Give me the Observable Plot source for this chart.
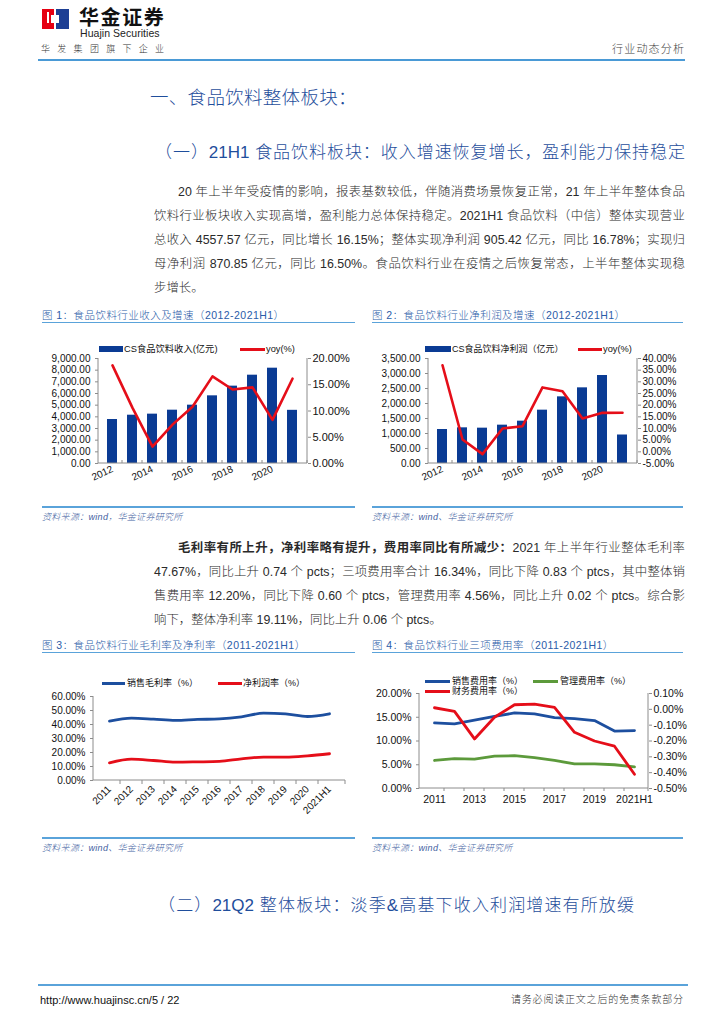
<!DOCTYPE html>
<html><head><meta charset="utf-8">
<script src="https://cdn.jsdelivr.net/npm/d3@7"></script>
<script src="https://cdn.jsdelivr.net/npm/@observablehq/plot@0.6"></script>
<style>
body{margin:0;background:#fff;}
#page{position:relative;width:724px;height:1024px;overflow:hidden;background:#fff;font-family:"Liberation Sans","Noto Sans CJK SC",sans-serif;color:#222;}
</style>
</head><body><div id="page">
<svg style="position:absolute;left:42px;top:9px" width="27" height="20" viewBox="0 0 27 20">
<path d="M0 0H12V6H9V14H12V20H0Z" fill="#e60012"/>
<path d="M14 0H27V20H14V14H17V6H14Z" fill="#1d3f94"/>
<rect x="5" y="3" width="2" height="11" fill="#fff"/>
</svg>
</div>
<script>
// ---------- data ----------
const years1 = ["2012","2013","2014","2015","2016","2017","2018","2019","2020","2021H1"];
const xLabels1 = ["2012","2014","2016","2018","2020"];
const revenue = [3770,4140,4230,4570,5000,5800,6630,7570,8170,4558];
const revenueYoy = [18.7,10.6,3.2,7.4,10.8,16.6,14.1,14.5,8.3,16.15];
const revTicks = [0,1000,2000,3000,4000,5000,6000,7000,8000,9000];
const revYoyTicks = [0,5,10,15,20];

const profit = [1133,1189,1178,1278,1411,1778,2222,2522,2933,950];
const profitYoy = [37.1,5.3,-1.0,10.0,11.0,27.6,26.0,14.3,16.7,16.78];
const profitTicks = [0,500,1000,1500,2000,2500,3000,3500];
const profitYoyTicks = [-5,0,5,10,15,20,25,30,35,40];

const years3 = ["2011","2012","2013","2014","2015","2016","2017","2018","2019","2020","2021H1"];
const grossMargin = [42.4,44.5,43.8,42.9,43.6,44.0,45.5,48.1,47.6,45.7,47.67];
const netMargin = [12.6,15.2,14.3,13.1,13.3,13.6,15.5,16.7,16.7,17.6,19.11];
const marginTicks = [0,10,20,30,40,50,60];

const xLabels4 = ["2011","2013","2015","2017","2019","2021H1"];
const salesExp = [13.8,13.6,14.4,15.2,15.9,15.7,14.9,14.7,14.3,12.1,12.2];
const adminExp = [5.9,6.3,6.2,6.8,6.9,6.5,5.9,5.2,5.2,5.0,4.56];
const finExp = [0.01,-0.013,-0.187,-0.05,0.029,0.033,0.012,-0.145,-0.20,-0.233,-0.41];
const expTicks = [0,5,10,15,20];
const finTicks = [-0.5,-0.4,-0.3,-0.2,-0.1,0,0.1];

// ---------- styles ----------
const C = {bar:"#0a3b94", red:"#e50e19", blue:"#1d4f9f", green:"#5c9a3b", axis:"#8c8c8c",
  title:"#2a5ca8", rule:"#5aa3da", head:"#1f4e9c", src:"#3f5f9f"};
const FONT = '"Liberation Sans","Noto Sans CJK SC",sans-serif';
const page = document.getElementById("page");

function el(css, html) {
  const e = document.createElement("div");
  e.style.cssText = "position:absolute;white-space:nowrap;" + css;
  if (html != null) e.innerHTML = html;
  page.appendChild(e); return e;
}
function txt(s, x, yc, fs, css="") {
  return el(`left:${x}px;top:${yc - fs}px;height:${fs*2}px;line-height:${fs*2}px;font-size:${fs}px;${css}`, s);
}
function jline(s, x, w, yc, fs, css="") {
  return el(`left:${x}px;width:${w}px;top:${yc - fs}px;height:${fs*2}px;line-height:${fs*2}px;font-size:${fs}px;text-align:justify;text-align-last:justify;${css}`, s);
}
function hr(x1, x2, y, color, w=1) {
  el(`left:${x1}px;top:${y - w/2}px;width:${x2-x1}px;height:${w}px;background:${color}`);
}
function swatchRect(x1, x2, yc, h, color) { el(`left:${x1}px;top:${yc-h/2}px;width:${x2-x1}px;height:${h}px;background:${color}`); }

// ---------- header ----------
txt("华金证券", 79, 18, 20, "font-weight:bold;letter-spacing:1.6px;color:#111;");
txt("Huajin Securities", 80, 33.5, 10.5, "color:#222;letter-spacing:0.05px;");
txt("华发集团旗下企业", 41, 49, 9, "letter-spacing:7.3px;color:#333;font-weight:300;");
txt("行业动态分析", 612, 49, 11, "letter-spacing:1.2px;color:#444;font-weight:300;");
hr(38, 685, 59.5, "#4a9ad6", 2);

// ---------- headings & text ----------
const HC = `color:${C.head};font-weight:300;`;
txt("一、食品饮料整体板块：", 150, 97, 18.5, HC + "letter-spacing:0.3px;");
jline("（一）21H1 食品饮料板块：收入增速恢复增长，盈利能力保持稳定", 155, 530, 153, 17, HC);

const P = 12.4, PC = "color:#2a2a2a;font-weight:300;";
jline("20 年上半年受疫情的影响，报表基数较低，伴随消费场景恢复正常，21 年上半年整体食品", 178, 507, 192, P, PC);
jline("饮料行业板块收入实现高增，盈利能力总体保持稳定。2021H1 食品饮料（中信）整体实现营业", 154, 531, 216, P, PC);
jline("总收入 4557.57 亿元，同比增长 16.15%；整体实现净利润 905.42 亿元，同比 16.78%；实现归", 154, 531, 240, P, PC);
jline("母净利润 870.85 亿元，同比 16.50%。食品饮料行业在疫情之后恢复常态，上半年整体实现稳", 154, 531, 264, P, PC);
txt("步增长。", 154, 288, P, PC);

jline("<b style='font-weight:700'>毛利率有所上升，净利率略有提升，费用率同比有所减少：</b>2021 年上半年行业整体毛利率", 178, 507, 548, P, PC);
jline("47.67%，同比上升 0.74 个 pcts；三项费用率合计 16.34%，同比下降 0.83 个 ptcs，其中整体销", 154, 531, 572, P, PC);
jline("售费用率 12.20%，同比下降 0.60 个 ptcs，管理费用率 4.56%，同比上升 0.02 个 ptcs。综合影", 154, 531, 596, P, PC);
txt("响下，整体净利率 19.11%，同比上升 0.06 个 ptcs。", 154, 620, P, PC);

jline("（二）21Q2 整体板块：淡季&amp;高基下收入利润增速有所放缓", 158, 476, 906, 17, HC);

// footer
hr(38, 688, 985, C.rule, 1.5);
txt("http://www.huajinsc.cn/5 / 22", 40, 1000, 11, "color:#111;");
txt("请务必阅读正文之后的免责条款部分", 511, 1000, 10, "letter-spacing:0.8px;color:#333;font-weight:300;");

// chart titles, rules and sources
function chartBox(title, src, x1, x2, yTitle, ySrc) {
  txt(title, x1, yTitle, 10.5, `color:${C.title};letter-spacing:0.45px;font-weight:300;`);
  hr(x1, x2, yTitle + 7.5, C.rule, 1.5);
  hr(x1, x2, ySrc - 10, C.rule, 1.2);
  txt(src, x1, ySrc, 9, `color:${C.src};font-style:italic;letter-spacing:0.3px;font-weight:300;`);
}
chartBox("图 1：食品饮料行业收入及增速（2012-2021H1）", "资料来源：wind，华金证券研究所", 42, 355, 315, 517);
chartBox("图 2：食品饮料行业净利润及增速（2012-2021H1）", "资料来源：wind、华金证券研究所", 372, 683, 315, 517);
chartBox("图 3：食品饮料行业毛利率及净利率（2011-2021H1）", "资料来源：wind、华金证券研究所", 42, 355, 645, 848);
chartBox("图 4：食品饮料行业三项费用率（2011-2021H1）", "资料来源：wind、华金证券研究所", 372, 683, 645, 848);

// legends
const LF = 9.3, LC = "color:#111;";
swatchRect(99, 123, 349, 6, C.bar); txt("CS食品饮料收入(亿元)", 124, 349, LF, LC);
swatchRect(240, 265, 349, 3, C.red); txt("yoy(%)", 266, 349, LF, LC);
swatchRect(425, 451, 349, 6, C.bar); txt("CS食品饮料净利润（亿元）", 452, 349, 9, LC);
swatchRect(578, 602, 349, 3, C.red); txt("yoy(%)", 603, 349, LF, LC);
swatchRect(102, 125, 683, 3, C.blue); txt("销售毛利率（%）", 127, 683, 9, LC);
swatchRect(218, 242, 683, 3, C.red); txt("净利润率（%）", 243, 683, 9, LC);
swatchRect(425, 450, 681, 3, C.blue); txt("销售费用率（%）", 452, 681, 9, LC);
swatchRect(533, 558, 681, 3, C.green); txt("管理费用率（%）", 560, 681, 9, LC);
swatchRect(425, 450, 691, 3, C.red); txt("财务费用率（%）", 452, 691, 9, LC);

// ---------- plot helpers ----------
function frameMark({left=true, right=false, bottom=true, tickLen=3, tickUp=false} = {}) {
  return (index, scales, values, dims) => {
    const {width, height, marginLeft: l, marginRight: r, marginTop: t, marginBottom: b} = dims;
    const x = scales.x;
    const bw = typeof x.bandwidth === "function" ? x.bandwidth() : 0;
    const cs = x.domain().map(d => x(d) + bw / 2);
    const g = d3.create("svg:g").attr("stroke", C.axis).attr("stroke-width", 1).attr("fill", "none");
    const yb = height - b;
    if (left) g.append("line").attr("x1", l).attr("x2", l).attr("y1", t).attr("y2", yb);
    if (right) g.append("line").attr("x1", width - r).attr("x2", width - r).attr("y1", t).attr("y2", yb);
    if (bottom) {
      g.append("line").attr("x1", l).attr("x2", width - r).attr("y1", yb).attr("y2", yb);
      const bounds = cs.slice(1).map((c, i) => (c + cs[i]) / 2).concat([width - r]);
      for (const bx of bounds) g.append("line").attr("x1", bx).attr("x2", bx).attr("y1", yb).attr("y2", yb + (tickUp ? -tickLen : tickLen));
    }
    return g.node();
  };
}
function pct(v) { v = +v.toFixed(4); if (v === 0) v = 0; return v.toFixed(2) + "%"; }
function place(svg, x, y) { const d = el(`left:${x}px;top:${y}px;`); d.appendChild(svg); }

function barLine({cats, bars, yoy, leftTicks, rightTicks, labels, rightFs}) {
  const leftDomain = [leftTicks[0], leftTicks[leftTicks.length - 1]];
  const rightDomain = [rightTicks[0], rightTicks[rightTicks.length - 1]];
  const toLeft = d3.scaleLinear().domain(rightDomain).range(leftDomain);
  const data = cats.map((c, i) => ({c, v: bars[i], r: toLeft(yoy[i])}));
  return Plot.plot({
    width: 330, height: 145, marginLeft: 68, marginRight: 53, marginTop: 8, marginBottom: 32,
    style: {fontFamily: FONT, fontSize: "10px", color: "#111", background: "transparent", overflow: "visible"},
    x: {type: "band", domain: cats, paddingInner: 0.48, paddingOuter: 0.24, label: null},
    y: {domain: leftDomain, label: null},
    marks: [
      Plot.barY(data, {x: "c", y: "v", fill: C.bar}),
      frameMark({left: true, right: true, bottom: true, tickUp: true}),
      Plot.line(data, {x: "c", y: "r", stroke: C.red, strokeWidth: 2.6}),
      Plot.axisY({ticks: leftTicks, tickFormat: d3.format(",.2f"), tickSize: 3, tickPadding: 5, stroke: C.axis, label: null}),
      Plot.axisY({anchor: "right", ticks: rightTicks.map(toLeft), tickFormat: d => pct(toLeft.invert(d)), tickSize: 3, tickPadding: 2, stroke: C.axis, fontSize: rightFs, label: null}),
      Plot.axisX({ticks: labels, tickRotate: -25, tickSize: 0, tickPadding: 5, fontSize: 10, label: null})
    ]
  });
}

place(barLine({cats: years1, bars: revenue, yoy: revenueYoy, leftTicks: revTicks, rightTicks: revYoyTicks, labels: xLabels1, rightFs: 11}), 30, 350);
place(barLine({cats: years1, bars: profit, yoy: profitYoy, leftTicks: profitTicks, rightTicks: profitYoyTicks, labels: xLabels1, rightFs: 10}), 360, 350);

// chart 3
{
  const d = years3.map((c, i) => ({c, g: grossMargin[i], n: netMargin[i]}));
  const p = Plot.plot({
    width: 330, height: 140, marginLeft: 63, marginRight: 15, marginTop: 6, marginBottom: 50,
    style: {fontFamily: FONT, fontSize: "10px", color: "#111", background: "transparent", overflow: "visible"},
    x: {type: "point", domain: years3, padding: 0.5, label: null},
    y: {domain: [marginTicks[0], marginTicks[marginTicks.length - 1]], label: null},
    marks: [
      frameMark({left: true, bottom: true, tickLen: 4}),
      Plot.line(d, {x: "c", y: "g", stroke: C.blue, strokeWidth: 2.8, curve: "monotone-x"}),
      Plot.line(d, {x: "c", y: "n", stroke: C.red, strokeWidth: 2.8, curve: "monotone-x"}),
      Plot.axisY({ticks: marginTicks, tickFormat: pct, tickSize: 3, tickPadding: 5, stroke: C.axis, label: null}),
      Plot.axisX({ticks: years3, tickRotate: -45, tickSize: 0, tickPadding: 7, fontSize: 10, label: null})
    ]
  });
  place(p, 30, 690);
}

// chart 4
{
  const toLeft = d3.scaleLinear().domain([finTicks[0], finTicks[finTicks.length - 1]]).range([expTicks[0], expTicks[expTicks.length - 1]]);
  const d = years3.map((c, i) => ({c, s: salesExp[i], a: adminExp[i], f: toLeft(finExp[i])}));
  const p = Plot.plot({
    width: 334, height: 122, marginLeft: 59, marginRight: 46, marginTop: 5, marginBottom: 22,
    style: {fontFamily: FONT, fontSize: "10px", color: "#111", background: "transparent", overflow: "visible"},
    x: {type: "point", domain: years3, padding: 0.5, label: null},
    y: {domain: [expTicks[0], expTicks[expTicks.length - 1]], label: null},
    marks: [
      frameMark({left: true, right: true, bottom: true, tickLen: 3}),
      Plot.line(d, {x: "c", y: "s", stroke: C.blue, strokeWidth: 2.8}),
      Plot.line(d, {x: "c", y: "a", stroke: C.green, strokeWidth: 2.8}),
      Plot.line(d, {x: "c", y: "f", stroke: C.red, strokeWidth: 2.8}),
      Plot.axisY({ticks: expTicks, tickFormat: pct, tickSize: 3, tickPadding: 5, stroke: C.axis, fontSize: 10.5, label: null}),
      Plot.axisY({anchor: "right", ticks: finTicks.map(toLeft), tickFormat: v => pct(toLeft.invert(v)), tickSize: 3, tickPadding: 2, stroke: C.axis, fontSize: 10.5, label: null}),
      Plot.axisX({ticks: xLabels4, tickSize: 0, tickPadding: 7, fontSize: 10.5, label: null})
    ]
  });
  place(p, 360, 688);
}
</script>
</body></html>
